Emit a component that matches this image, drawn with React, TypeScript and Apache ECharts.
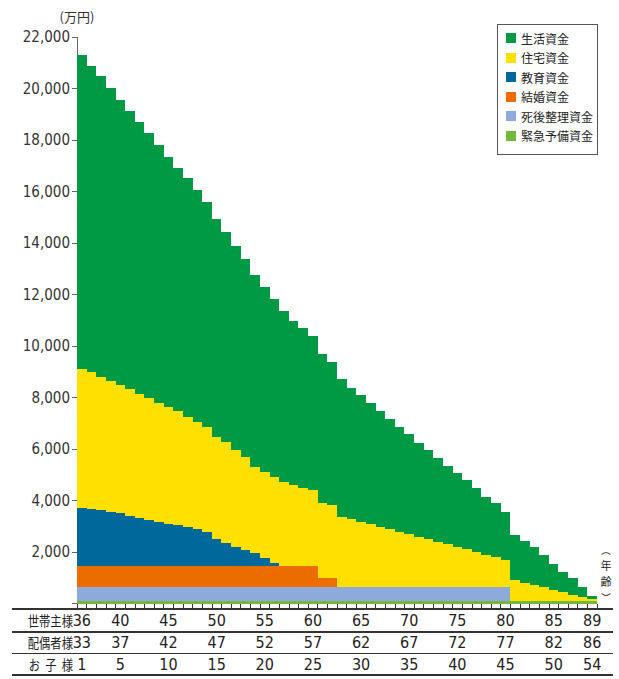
import React, { useEffect, useRef } from "react";
import * as echarts from "echarts";

// 世帯主様の年齢（カテゴリ）
const ages = [
  36, 37, 38, 39, 40, 41, 42, 43, 44, 45, 46, 47, 48, 49, 50, 51, 52, 53,
  54, 55, 56, 57, 58, 59, 60, 61, 62, 63, 64, 65, 66, 67, 68, 69, 70, 71,
  72, 73, 74, 75, 76, 77, 78, 79, 80, 81, 82, 83, 84, 85, 86, 87, 88, 89,
];

// 表の目盛ラベル
const headTicks = [36, 40, 45, 50, 55, 60, 65, 70, 75, 80, 85, 89];
const spouseTicks = [33, 37, 42, 47, 52, 57, 62, 67, 72, 77, 82, 86];
const childTicks = [1, 5, 10, 15, 20, 25, 30, 35, 40, 45, 50, 54];
const rowLabels = ["世帯主様", "配偶者様", "お  子  様"];

const seriesNames = ["生活資金", "住宅資金", "教育資金", "結婚資金", "死後整理資金", "緊急予備資金"];
const seriesColors = ["#009a44", "#ffe000", "#00689a", "#ec6c00", "#8eaadb", "#72b83c"];

// 値（万円）
const living = [
  12200, 11890, 11680, 11350, 11070, 10810, 10560, 10290, 10010, 9710, 9440, 9260,
  9000, 8740, 8450, 8130, 7920, 7670, 7440, 7180, 6890, 6640, 6370, 6190, 5990,
  5790, 5580, 5340, 5080, 4920, 4690, 4490, 4270, 4050, 3870, 3650, 3460, 3260,
  3030, 2850, 2690, 2470, 2260, 2100, 1880, 1750, 1600, 1480, 1250, 1010, 790,
  660, 380, 130,
];
const housing = [
  5370, 5300, 5180, 5090, 4980, 4910, 4790, 4730, 4620, 4540, 4450, 4290, 4180,
  4080, 3980, 3950, 3750, 3620, 3360, 3360, 3340, 3280, 3150, 3050, 2960, 2900,
  2820, 2740, 2650, 2550, 2460, 2350, 2260, 2160, 2070, 1960, 1880, 1770, 1680,
  1580, 1480, 1370, 1250, 1160, 1060, 810, 710, 620, 530, 420, 340, 230, 160, 60,
];
const education = [
  2270, 2230, 2180, 2115, 2055, 1960, 1880, 1790, 1725, 1650, 1585, 1510, 1430,
  1340, 1045, 890, 755, 625, 500, 305, 135, 0, 0, 0, 0, 0, 0, 0, 0, 0, 0, 0, 0,
  0, 0, 0, 0, 0, 0, 0, 0, 0, 0, 0, 0, 0, 0, 0, 0, 0, 0, 0, 0, 0,
];
const marriage = [
  820, 820, 820, 820, 820, 820, 820, 820, 820, 820, 820, 820, 820, 820, 820, 820,
  820, 820, 820, 820, 820, 820, 820, 820, 820, 360, 360, 0, 0, 0, 0, 0, 0, 0, 0,
  0, 0, 0, 0, 0, 0, 0, 0, 0, 0, 0, 0, 0, 0, 0, 0, 0, 0, 0,
];
const afterDeath = [
  530, 530, 530, 530, 530, 530, 530, 530, 530, 530, 530, 530, 530, 530, 530, 530,
  530, 530, 530, 530, 530, 530, 530, 530, 530, 530, 530, 530, 530, 530, 530, 530,
  530, 530, 530, 530, 530, 530, 530, 530, 530, 530, 530, 530, 530, 0, 0, 0, 0, 0,
  0, 0, 0, 0,
];
const emergency = [
  100, 100, 100, 100, 100, 100, 100, 100, 100, 100, 100, 100, 100, 100, 100, 100,
  100, 100, 100, 100, 100, 100, 100, 100, 100, 100, 100, 100, 100, 100, 100, 100,
  100, 100, 100, 100, 100, 100, 100, 100, 100, 100, 100, 100, 100, 100, 100, 100,
  100, 100, 100, 100, 100, 100,
];

const yMax = 22000;
const yStep = 2000;

export default function App() {
  const ref = useRef<HTMLDivElement>(null);

  useEffect(() => {
    if (!ref.current) return;
    const chart = echarts.init(ref.current, null, { renderer: "svg" });
    const num =
      "'Liberation Sans Narrow', 'Arial Narrow', 'DejaVu Sans Condensed', 'Liberation Sans', sans-serif";
    const cjk = "'Noto Sans CJK JP', 'Noto Sans', sans-serif";

    const stackOrder = [
      { name: seriesNames[5], data: emergency, color: seriesColors[5] },
      { name: seriesNames[4], data: afterDeath, color: seriesColors[4] },
      { name: seriesNames[3], data: marriage, color: seriesColors[3] },
      { name: seriesNames[2], data: education, color: seriesColors[2] },
      { name: seriesNames[1], data: housing, color: seriesColors[1] },
      { name: seriesNames[0], data: living, color: seriesColors[0] },
    ];

    const tableLines = [
      { y: 609, w: 2.5 },
      { y: 631.7, w: 1.6 },
      { y: 653.3, w: 1.6 },
      { y: 675, w: 1.6 },
    ];
    const rowY = [620.4, 642.5, 664.2];

    // 縦書き「（年齢）」
    const vertical = [
      { t: "︵", y: 549.5, s: 9.5 },
      { t: "年", y: 565, s: 11 },
      { t: "齢", y: 581.3, s: 11 },
      { t: "︶", y: 597, s: 9.5 },
    ];

    chart.setOption({
      animation: false,
      grid: { left: 77, right: 22, top: 37, bottom: 75.5, containLabel: false },
      legend: {
        orient: "vertical",
        left: 497,
        top: 24,
        data: seriesNames,
        icon: "rect",
        itemWidth: 10,
        itemHeight: 10,
        itemGap: 5.5,
        borderColor: "#555",
        borderWidth: 1,
        backgroundColor: "#fff",
        padding: [7, 4, 12, 9],
        selectedMode: false,
        textStyle: { fontFamily: cjk, fontSize: 12, color: "#222", lineHeight: 14 },
      },
      xAxis: {
        type: "category",
        data: ages.map(String),
        boundaryGap: true,
        axisLine: { show: true, lineStyle: { color: "#333", width: 1 } },
        axisTick: { show: true, interval: 0, length: 5.5, lineStyle: { color: "#333" } },
        splitLine: { show: false },
        axisLabel: {
          interval: 0,
          margin: 6,
          color: "#222",
          fontFamily: num,
          fontSize: 16,
          lineHeight: 21.9,
          formatter: (value: string) => {
            const k = headTicks.indexOf(Number(value));
            if (k < 0) return "";
            return `${headTicks[k]}\n${spouseTicks[k]}\n${childTicks[k]}`;
          },
        },
      },
      yAxis: {
        type: "value",
        min: 0,
        max: yMax,
        interval: yStep,
        name: "(万円)",
        nameLocation: "end",
        nameGap: 14,
        nameTextStyle: { fontFamily: cjk, fontSize: 13, color: "#333" },
        axisLine: { show: true, lineStyle: { color: "#666", width: 1 } },
        axisTick: { show: true, length: 5, lineStyle: { color: "#666" } },
        splitLine: { show: false },
        axisLabel: {
          margin: 7,
          color: "#333",
          fontFamily: num,
          fontSize: 15,
          formatter: (v: number) => (v === 0 ? "" : v.toLocaleString("en-US")),
        },
      },
      series: stackOrder.map((s) => ({
        name: s.name,
        type: "bar",
        stack: "total",
        data: s.data.map((v) => (v === 0 ? null : v)),
        barCategoryGap: "0%",
        barGap: "0%",
        silent: true,
        itemStyle: { color: s.color },
        emphasis: { disabled: true },
      })),
      graphic: [
        ...tableLines.map((l) => ({
          type: "line",
          z: 10,
          shape: { x1: 12, y1: l.y, x2: 613, y2: l.y },
          style: { stroke: "#333", lineWidth: l.w },
        })),
        ...rowLabels.map((t, i) => ({
          type: "text",
          x: 73,
          y: rowY[i],
          scaleX: 0.84,
          z: 10,
          style: {
            text: t,
            fontFamily: cjk,
            fontSize: 13.5,
            fill: "#222",
            align: "right",
            verticalAlign: "middle",
          },
        })),
        ...vertical.map((v) => ({
          type: "text",
          x: 606,
          y: v.y,
          z: 10,
          style: {
            text: v.t,
            fontFamily: cjk,
            fontSize: v.s,
            fill: "#222",
            align: "center",
            verticalAlign: "middle",
          },
        })),
      ],
    });

    return () => chart.dispose();
  }, []);

  return (
    <div
      ref={ref}
      style={{
        position: "fixed",
        left: 0,
        top: 0,
        width: 619,
        height: 679,
        background: "#fff",
        shapeRendering: "crispEdges",
      } as React.CSSProperties}
    />
  );
}
